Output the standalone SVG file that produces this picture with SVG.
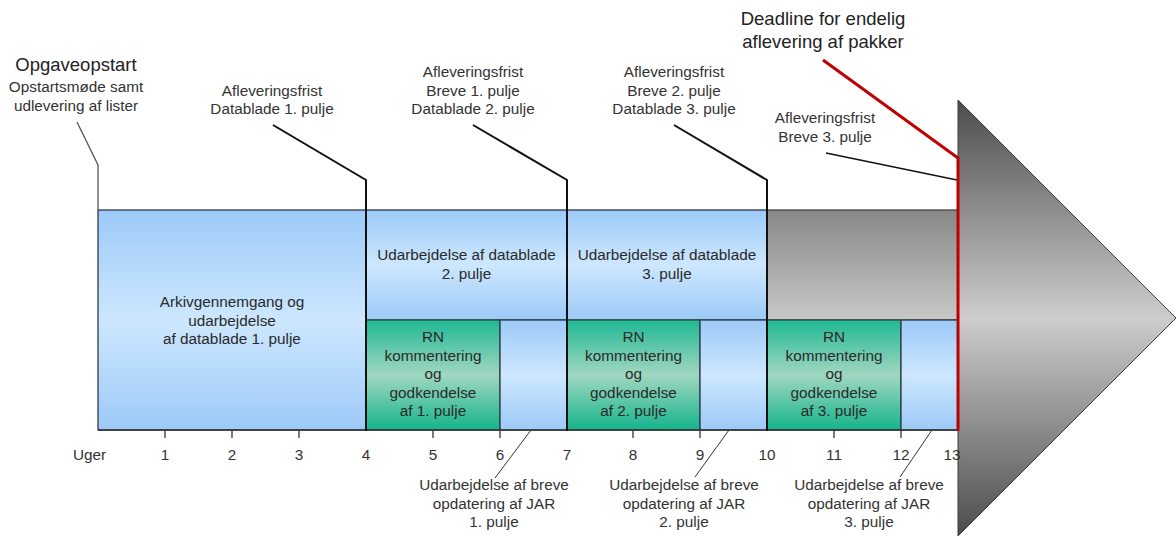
<svg xmlns="http://www.w3.org/2000/svg" width="1176" height="536" viewBox="0 0 1176 536">
<defs>
<linearGradient id="gBlue" x1="0" y1="0" x2="0" y2="1">
<stop offset="0" stop-color="#9ccaf8"/><stop offset="0.5" stop-color="#cde7fe"/><stop offset="1" stop-color="#9ccaf8"/>
</linearGradient>
<linearGradient id="gGreen" x1="0" y1="0" x2="0" y2="1">
<stop offset="0" stop-color="#1fb894"/><stop offset="0.5" stop-color="#a0d7c0"/><stop offset="1" stop-color="#14b48c"/>
</linearGradient>
<linearGradient id="gGrayBox" x1="0" y1="0" x2="0" y2="1">
<stop offset="0" stop-color="#888888"/><stop offset="1" stop-color="#c8c8c8"/>
</linearGradient>
<linearGradient id="gTri" gradientUnits="userSpaceOnUse" x1="0" y1="100" x2="0" y2="536">
<stop offset="0" stop-color="#4c4c4c"/><stop offset="0.5" stop-color="#cdcdcd"/><stop offset="1" stop-color="#4c4c4c"/>
</linearGradient>
</defs>
<style>
text{font-family:"Liberation Sans",Arial,sans-serif;font-size:15.3px;fill:#333;text-anchor:middle}
.big{font-size:18.5px;fill:#222}
.lbl{fill:#2a2a2a}
.blue{fill:url(#gBlue);stroke:#2f3a44;stroke-width:1.3}
.green{fill:url(#gGreen);stroke:#2b4a42;stroke-width:1.3}
.gray{fill:url(#gGrayBox);stroke:#444;stroke-width:1.3}
.sep{fill:none;stroke:#111;stroke-width:2}
.thin{fill:none;stroke:#333;stroke-width:1}
.tick{stroke:#333;stroke-width:1.3}
</style>

<g id="arrow-head">
<polygon points="958,100 1176,318 958,536" fill="url(#gTri)" stroke="#3c3c3c" stroke-width="1"/>
</g>

<g id="box-arkiv">
<rect class="blue" x="98" y="210" width="268" height="220"/>
<text class="lbl" x="232" y="307">Arkivgennemgang og</text>
<text class="lbl" x="232" y="325.5">udarbejdelse</text>
<text class="lbl" x="232" y="344">af datablade 1. pulje</text>
</g>
<g id="box-datablade2">
<rect class="blue" x="366" y="210" width="201" height="110"/>
<text class="lbl" x="466.5" y="260">Udarbejdelse af datablade</text>
<text class="lbl" x="466.5" y="278.5">2. pulje</text>
</g>
<g id="box-datablade3">
<rect class="blue" x="567" y="210" width="200" height="110"/>
<text class="lbl" x="667" y="260">Udarbejdelse af datablade</text>
<text class="lbl" x="667" y="278.5">3. pulje</text>
</g>
<g id="box-slut">
<rect class="gray" x="767" y="210" width="191" height="110"/>
</g>
<g id="box-rn1">
<rect class="green" x="366" y="320" width="134" height="110"/>
<text class="lbl" x="433" y="342">RN</text>
<text class="lbl" x="433" y="360.5">kommentering</text>
<text class="lbl" x="433" y="379">og</text>
<text class="lbl" x="433" y="397.5">godkendelse</text>
<text class="lbl" x="433" y="416">af 1. pulje</text>
</g>
<g id="box-breve1"><rect class="blue" x="500" y="320" width="67" height="110"/></g>
<g id="box-rn2">
<rect class="green" x="567" y="320" width="133" height="110"/>
<text class="lbl" x="633.5" y="342">RN</text>
<text class="lbl" x="633.5" y="360.5">kommentering</text>
<text class="lbl" x="633.5" y="379">og</text>
<text class="lbl" x="633.5" y="397.5">godkendelse</text>
<text class="lbl" x="633.5" y="416">af 2. pulje</text>
</g>
<g id="box-breve2"><rect class="blue" x="700" y="320" width="67" height="110"/></g>
<g id="box-rn3">
<rect class="green" x="767" y="320" width="134" height="110"/>
<text class="lbl" x="834" y="342">RN</text>
<text class="lbl" x="834" y="360.5">kommentering</text>
<text class="lbl" x="834" y="379">og</text>
<text class="lbl" x="834" y="397.5">godkendelse</text>
<text class="lbl" x="834" y="416">af 3. pulje</text>
</g>
<g id="box-breve3"><rect class="blue" x="901" y="320" width="57" height="110"/></g>

<g id="axis">
<line class="tick" x1="98" y1="430" x2="958" y2="430"/>
<line class="tick" x1="165" y1="430" x2="165" y2="438"/>
<line class="tick" x1="232" y1="430" x2="232" y2="438"/>
<line class="tick" x1="299" y1="430" x2="299" y2="438"/>
<line class="tick" x1="433" y1="430" x2="433" y2="438"/>
<line class="tick" x1="500" y1="430" x2="500" y2="438"/>
<line class="tick" x1="633" y1="430" x2="633" y2="438"/>
<line class="tick" x1="700" y1="430" x2="700" y2="438"/>
<line class="tick" x1="834" y1="430" x2="834" y2="438"/>
<line class="tick" x1="901" y1="430" x2="901" y2="438"/>
<text x="73" y="460" style="text-anchor:start">Uger</text>
<text x="165" y="460">1</text>
<text x="232" y="460">2</text>
<text x="299" y="460">3</text>
<text x="366" y="460">4</text>
<text x="433" y="460">5</text>
<text x="500" y="460">6</text>
<text x="567" y="460">7</text>
<text x="633" y="460">8</text>
<text x="700" y="460">9</text>
<text x="767" y="460">10</text>
<text x="834" y="460">11</text>
<text x="901" y="460">12</text>
<text x="952" y="460">13</text>
</g>

<g id="connectors">
<polyline points="77,122 98,165 98,210" fill="none" stroke="#555" stroke-width="1.3"/>
<polyline class="sep" points="273,125 366,180 366,431"/>
<polyline class="sep" points="473,125 567,180 567,431"/>
<polyline class="sep" points="674,125 767,180 767,431"/>
<line x1="826" y1="153" x2="957" y2="180" stroke="#111" stroke-width="1.3"/>
<polyline points="823,60 958,158 958,431" fill="none" stroke="#c00000" stroke-width="3"/>
<line class="thin" x1="531" y1="430" x2="495" y2="478"/>
<line class="thin" x1="729" y1="430" x2="695" y2="477"/>
<line class="thin" x1="932" y1="430" x2="900" y2="477"/>
</g>

<g id="label-opstart">
<text class="big" x="76" y="71">Opgaveopstart</text>
<text x="76" y="92">Opstartsmøde samt</text>
<text x="76" y="110.5">udlevering af lister</text>
</g>
<g id="label-frist1">
<text x="272" y="95.5">Afleveringsfrist</text>
<text x="272" y="114">Datablade 1. pulje</text>
</g>
<g id="label-frist2">
<text x="473" y="77">Afleveringsfrist</text>
<text x="473" y="95.5">Breve 1. pulje</text>
<text x="473" y="114">Datablade 2. pulje</text>
</g>
<g id="label-frist3">
<text x="674" y="77">Afleveringsfrist</text>
<text x="674" y="95.5">Breve 2. pulje</text>
<text x="674" y="114">Datablade 3. pulje</text>
</g>
<g id="label-frist4">
<text x="825" y="123">Afleveringsfrist</text>
<text x="825" y="141.5">Breve 3. pulje</text>
</g>
<g id="label-deadline">
<text class="big" x="823" y="25">Deadline for endelig</text>
<text class="big" x="823" y="48">aflevering af pakker</text>
</g>
<g id="label-breve1">
<text x="494" y="490">Udarbejdelse af breve</text>
<text x="494" y="508.5">opdatering af JAR</text>
<text x="494" y="527">1. pulje</text>
</g>
<g id="label-breve2">
<text x="684" y="490">Udarbejdelse af breve</text>
<text x="684" y="508.5">opdatering af JAR</text>
<text x="684" y="527">2. pulje</text>
</g>
<g id="label-breve3">
<text x="869" y="490">Udarbejdelse af breve</text>
<text x="869" y="508.5">opdatering af JAR</text>
<text x="869" y="527">3. pulje</text>
</g>
</svg>
